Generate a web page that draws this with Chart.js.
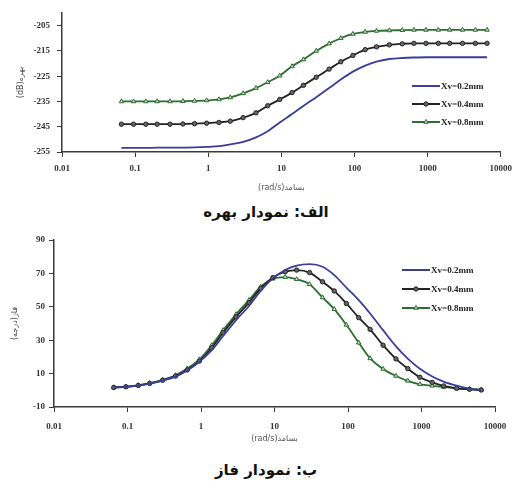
<!DOCTYPE html>
<html>
<head>
<meta charset="utf-8">
<script src="https://cdn.jsdelivr.net/npm/chart.js@4"></script>
<style>
  body { margin: 0; background: #fff; width: 518px; height: 489px; position: relative; overflow: hidden; }
  .box { position: absolute; left: 0; width: 518px; }
  .cap { position: absolute; left: 0; width: 532px; text-align: center; font: bold 15px "DejaVu Sans"; color: #111; }
</style>
</head>
<body>
<div class="box" style="top:0;height:196px"><canvas id="gainChart"></canvas></div>
<div class="cap" dir="rtl" style="top:203px">الف: نمودار بهره</div>
<div class="box" style="top:228px;height:224px"><canvas id="phaseChart"></canvas></div>
<div class="cap" dir="rtl" style="top:461px">ب: نمودار فاز</div>
<script>
// frequency points (rad/s)
var freq = [0.065, 0.095, 0.14, 0.2, 0.3, 0.45, 0.65, 0.95, 1.4, 2, 3, 4.5, 6.5, 9.5, 14, 20,
  30, 45, 65, 95, 140, 200, 300, 450, 650, 950, 1400, 2000, 3000, 4500, 6500];

var seriesNames = ['Xv=0.2mm', 'Xv=0.4mm', 'Xv=0.8mm'];

// gain (dB)
var gain02 = [-253.4, -253.4, -253.4, -253.3, -253.3, -253.3, -253.2, -253.0, -252.7, -252.0, -251.0,
  -249.2, -246.8, -243.3, -240.0, -236.8, -233.3, -229.7, -226.3, -223.2, -220.8, -219.2, -218.2,
  -217.8, -217.6, -217.5, -217.5, -217.5, -217.5, -217.5, -217.5];
var gain04 = [-244.0, -244.0, -244.0, -244.0, -244.0, -243.9, -243.8, -243.6, -243.3, -242.8, -241.4,
  -239.5, -236.7, -234.2, -231.5, -228.6, -225.4, -222.2, -219.3, -216.8, -214.5, -213.4, -212.6,
  -212.2, -212.0, -212.0, -212.0, -212.0, -212.0, -212.0, -212.0];
var gain08 = [-235.0, -235.0, -235.0, -235.0, -235.0, -234.9, -234.8, -234.6, -234.2, -233.4, -231.8,
  -229.7, -227.4, -224.8, -221.1, -218.4, -215.0, -212.1, -210.0, -208.3, -207.5, -207.1, -206.9,
  -206.8, -206.7, -206.7, -206.7, -206.7, -206.7, -206.7, -206.7];

// phase (deg)
var phase02 = [1.7, 2.0, 2.8, 4.0, 5.8, 8.2, 11.8, 17.0, 24.0, 32.5, 42.0, 50.5, 59.5, 67.0, 72.0, 74.6,
  75.5, 74.0, 69.0, 61.5, 54.0, 46.0, 36.0, 26.3, 19.0, 12.9, 8.3, 5.2, 2.8, 1.0, 0.0];
var phase04 = [1.7, 2.1, 2.9, 4.1, 6.0, 8.5, 12.2, 17.5, 25.5, 34.5, 44.0, 52.5, 61.0, 67.5, 71.0, 72.0,
  70.5, 65.0, 59.5, 52.0, 43.5, 36.5, 27.0, 18.8, 13.0, 7.8, 4.7, 2.6, 1.2, 0.6, 0.2];
var phase08 = [1.7, 2.2, 3.0, 4.3, 6.3, 9.0, 13.0, 18.5, 27.0, 36.0, 45.5, 54.0, 62.0, 66.8, 67.8, 66.5,
  63.5, 55.6, 48.6, 39.2, 28.5, 19.1, 12.8, 8.6, 5.7, 3.6, 2.7, 2.0, 1.2, 0.8, 0.3];

// tick labels
var freqTicks = [0.01, 0.1, 1, 10, 100, 1000, 10000];
var gainTicks = [-255, -245, -235, -225, -215, -205];
var phaseTicks = [-10, 10, 30, 50, 70, 90];

var tickFont = { family: 'Liberation Serif', size: 9, weight: 'bold' };
var axisColor = '#3a3a3a';

function pts(vals) {
  return freq.map(function (f, i) { return { x: f, y: vals[i] }; });
}

function makeDatasets(a, b, c) {
  return [
    { label: seriesNames[0], data: pts(a), borderColor: '#3b3d9c', backgroundColor: '#3b3d9c',
      borderWidth: 1.8, pointRadius: 0, cubicInterpolationMode: 'monotone' },
    { label: seriesNames[1], data: pts(b), borderColor: '#222', backgroundColor: '#666',
      borderWidth: 1.8, pointRadius: 2.2, pointBorderWidth: 1, pointStyle: 'circle', cubicInterpolationMode: 'monotone' },
    { label: seriesNames[2], data: pts(c), borderColor: '#2f6d32', backgroundColor: '#c4dbbf',
      borderWidth: 1.8, pointRadius: 2.6, pointBorderWidth: 1, pointStyle: 'triangle', cubicInterpolationMode: 'monotone' }
  ];
}

// small legend drawn inside the plot
var sideLegend = {
  id: 'sideLegend',
  afterDraw: function (chart, args, opts) {
    var ctx = chart.ctx;
    ctx.save();
    ctx.font = 'bold 9px "Liberation Serif"';
    ctx.textBaseline = 'middle';
    chart.data.datasets.forEach(function (ds, i) {
      var y = opts.y + i * opts.gap;
      ctx.strokeStyle = ds.borderColor;
      ctx.lineWidth = 2;
      ctx.beginPath();
      ctx.moveTo(opts.x, y);
      ctx.lineTo(opts.x + opts.len, y);
      ctx.stroke();
      if (ds.pointRadius > 0) {
        ctx.fillStyle = ds.backgroundColor;
        ctx.lineWidth = 1;
        Chart.helpers.drawPoint(ctx, { pointStyle: ds.pointStyle, radius: ds.pointRadius, borderWidth: 1, rotation: 0 },
          opts.x + opts.len / 2, y);
      }
      ctx.fillStyle = '#222';
      ctx.fillText(ds.label, opts.x + opts.len + 1, y + 1);
    });
    ctx.restore();
  }
};

function makeChart(id, datasets, cfg) {
  return new Chart(document.getElementById(id), {
    type: 'line',
    data: { datasets: datasets },
    plugins: [sideLegend],
    options: {
      responsive: true,
      maintainAspectRatio: false,
      animation: false,
      layout: { padding: cfg.padding },
      plugins: {
        legend: { display: false },
        tooltip: { enabled: false },
        sideLegend: cfg.legend
      },
      scales: {
        x: {
          type: 'logarithmic',
          min: 0.01,
          max: 10000,
          afterBuildTicks: function (s) { s.ticks = freqTicks.map(function (v) { return { value: v }; }); },
          afterFit: function (s) { s.height = cfg.xHeight; },
          ticks: { font: tickFont, color: '#333', padding: cfg.xPad, maxRotation: 0, autoSkip: false,
            callback: function (v) { return String(v); } },
          grid: { drawOnChartArea: false, drawTicks: true, tickLength: 5, color: axisColor },
          border: { color: axisColor, width: 1.5 },
          title: { display: true, text: '\u202Bبسامد(rad/s)\u202C', font: { family: 'DejaVu Sans', size: 8 },
            color: '#555', padding: { top: 0, bottom: cfg.xTitlePad } }
        },
        y: {
          min: cfg.yMin,
          max: cfg.yMax,
          afterBuildTicks: function (s) { s.ticks = cfg.yTicks.map(function (v) { return { value: v }; }); },
          afterFit: function (s) { s.width = cfg.yWidth; },
          ticks: { font: tickFont, color: '#333', padding: cfg.yPad },
          grid: { drawOnChartArea: false, drawTicks: true, tickLength: 5, color: axisColor },
          border: { color: axisColor, width: 1.5 },
          title: { display: true, text: cfg.yTitle, font: { family: 'DejaVu Sans', size: 8 },
            color: '#444', padding: { top: cfg.yTitlePad, bottom: 0 } }
        }
      }
    }
  });
}

makeChart('gainChart', makeDatasets(gain02, gain04, gain08), {
  padding: { left: 0, right: 12, top: 13, bottom: 0 },
  xHeight: 44, xPad: 6, xTitlePad: 3,
  yWidth: 62, yPad: 7, yTitlePad: 16,
  yMin: -255, yMax: -200, yTicks: gainTicks,
  yTitle: '\u202Bبهره(dB)\u202C',
  legend: { x: 412, y: 86, gap: 18, len: 28 }
});

makeChart('phaseChart', makeDatasets(phase02, phase04, phase08), {
  padding: { left: 0, right: 23, top: 12, bottom: 0 },
  xHeight: 45, xPad: 9, xTitlePad: 8,
  yWidth: 54, yPad: 4, yTitlePad: 10,
  yMin: -10, yMax: 90, yTicks: phaseTicks,
  yTitle: '\u202Bفاز(درجه)\u202C',
  legend: { x: 402, y: 42, gap: 19, len: 28 }
});
</script>
</body>
</html>
